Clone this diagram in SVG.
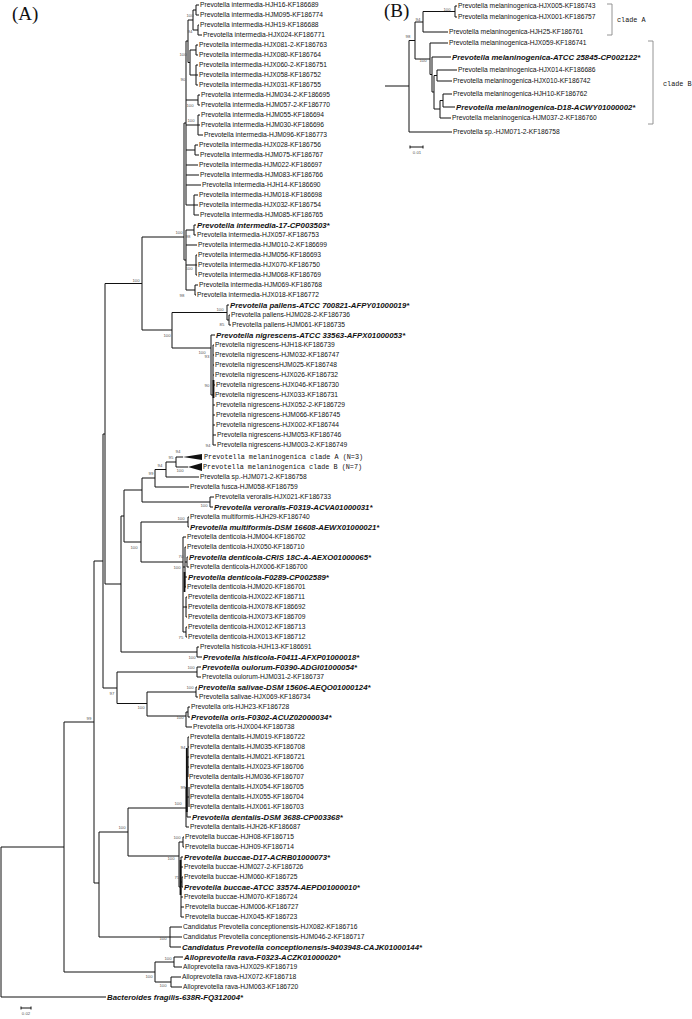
<svg xmlns="http://www.w3.org/2000/svg" width="692" height="1019" viewBox="0 0 692 1019">
<style>
text{fill:#111}
.n{font-family:"Liberation Sans",Arial,sans-serif;font-size:6.7px}
.b{font-family:"Liberation Sans",Arial,sans-serif;font-size:7.8px;font-weight:bold;font-style:italic}
.m{font-family:"Liberation Mono","Courier New",monospace;font-size:6.8px}
.s{font-family:"Liberation Sans",Arial,sans-serif;font-size:4.3px;fill:#555;text-anchor:middle}
.t{font-family:"Liberation Serif","Times New Roman",serif;font-size:19px}
.e{stroke:#111;stroke-width:1;fill:none}
.k{stroke:#111;stroke-width:1.8;fill:none}
.g{stroke:#888;stroke-width:0.9;fill:none}
</style>
<rect width="692" height="1019" fill="#fff"/>
<g id="panel-labels">
<text class="t" x="12" y="20">(A)</text>
<text class="t" x="384" y="17">(B)</text>
</g>
<g id="connectors">
<path class="e" d="M196,5V15M196,5H199M196,15H199M198,25V35M198,25H199M198,35H202M193,10V30M193,10H196M193,30H198M196,45V55M196,45H198M196,55H198M196,65V85M196,65H198M196,75H198M196,85H198M190,50V75M190,50H196M190,75H196M188,20V62.5M188,20H193M188,62.5H190M198,95V105M198,95H200M198,105H200M198,115V135M198,115H200M198,125H200M198,135H203M195,145V155M195,145H198M195,155H199M194,195V215M194,195H198M194,205H198M194,215H199M186,41V205M186,41H188M186,100H198M186,125H198M186,150H195M186,165H198M186,175H199M186,185H201M186,205H194M194,225V235M194,225H196M194,235H196M196,255V275M196,255H197M196,265H197M196,275H197M195,285V295M195,285H198M195,295H196M186,230V290M186,230H194M186,245H197M186,265H196M186,290H195M184,123V260M184,123H186M184,260H186"/>
<path class="e" d="M229,315V325M229,315H230M229,325H231M227,305V320M227,305H229M227,320H229M213,345V445M213,345H214M213,355H214M213,365H214M213,375H214M213,385H215M213,395H214M213,405H215M213,415H215M213,425H215M213,435H216M213,445H216M211,335V395M211,335H215M211,395H213M172,312.5V348M172,312.5H227M172,348H211M142,237V330M142,237H184M142,330H172M105,283.5V584M105,283.5H142M105,584H121M103,434V688M103,434H105M103,688H117M94,561V883M94,561H103M94,883H99M64,722V972M64,722H94M64,972H155M1,847V997M1,847H64M1,997H106"/>
<path class="e" d="M176,457V467M176,457H183M176,467H188M166,462V477M166,462H176M166,477H199M155,469.5V487M155,469.5H166M155,487H189M142,478V502M142,478H155M142,502H210M210,497V507M210,497H214M210,507H213M124,490V542M124,490H142M124,542H141M141,522V562M141,522H188M141,562H183M188,517V527M188,517H189M188,527H189M121,516V652M121,516H124M121,652H197M197,647V657M197,647H199M197,657H202"/>
<path class="e" d="M187,557V567M187,557H188M187,567H189M185,547V587M185,547H186M185,562H187M185,577H187M185,587H186M186,597V617M186,597H187M186,607H187M186,617H187M186,627V637M186,627H187M186,637H187M183,537V632M183,537H186M183,567H185M183,607H186M183,632H186"/>
<path class="e" d="M117,672V703.5M117,672H197M117,703.5H147M197,667V677M197,667H201M197,677H201M147,692V716M147,692H196M147,716H186M196,687V697M196,687H197M196,697H198M188,707V717M188,707H190M188,717H190M186,712V727M186,712H188M186,727H192"/>
<path class="e" d="M128,808V856M128,808H186M128,856H179M188,737V777M188,737H189M188,747H189M188,757H189M188,767H189M189,787V807M187,757V817M187,757H188M187,797H189M187,817H191M186,787V827M186,787H187M186,827H189M183,837V847M183,837H184M183,847H184M182,877V887M182,877H183M182,887H183M181,857V917M181,857H183M181,867H183M181,882H182M181,897H183M181,907H184M181,917H184M179,842V887M179,842H183M179,887H181M99,832V937M99,832H128M99,937H170M170,927V947M170,927H182M170,937H182M170,947H181M155,962V982M155,962H174M155,982H171M174,957V967M174,957H183M174,967H182M171,977V987M171,977H181M171,987H182"/>
<path class="k" d="M213.5,380V398M184.5,572V592M186.8,748V812M180.5,860V895"/>
<polygon points="183,457 202,454 202,460" fill="#111"/>
<polygon points="188,467 202,463 202,471" fill="#111"/>
<path class="e" d="M455,6V17M455,6H457M455,17H457M423,11.5V32M423,11.5H455M423,32H448M437,70V81M437,70H457M437,81H452M443,94V107M443,94H452M443,107H455M440,100.5V118M440,100.5H443M440,118H451M434,75.5V109M434,75.5H437M434,109H440M432,57V92M432,57H451M432,92H434M430,43V74.5M430,43H448M430,74.5H432M415,22V59M415,22H423M415,59H430M409,40.5V132M409,40.5H415M409,132H452M385,86H409"/>
<path class="g" d="M607,4H612V35H607M648,41H653V124H648"/>
<path class="e" d="M21,1008H31M21,1006.5V1009.5M31,1006.5V1009.5M410,147H423M410,145.5V148.5M423,145.5V148.5"/>
</g>
<g id="scale-labels">
<text class="s" x="26" y="1015">0.02</text>
<text class="s" x="417" y="154">0.01</text>
</g>
<g id="bootstrap">
<text class="s" x="190" y="17">100</text><text class="s" x="190" y="33">94</text><text class="s" x="183" y="56">100</text><text class="s" x="183" y="81">90</text><text class="s" x="190" y="107">100</text><text class="s" x="191" y="122">100</text><text class="s" x="179" y="234">100</text><text class="s" x="188" y="238">98</text><text class="s" x="189" y="270">100</text><text class="s" x="182" y="297">98</text>
<text class="s" x="220" y="311">100</text><text class="s" x="222" y="326">85</text><text class="s" x="202" y="354">100</text><text class="s" x="207" y="358">93</text><text class="s" x="207" y="387">90</text><text class="s" x="208" y="447">94</text><text class="s" x="167" y="337">100</text><text class="s" x="136" y="282">100</text>
<text class="s" x="178" y="453">94</text><text class="s" x="171" y="459">95</text><text class="s" x="160" y="467">94</text><text class="s" x="151" y="475">99</text><text class="s" x="180" y="472">100</text>
<text class="s" x="204" y="507">100</text><text class="s" x="181" y="520">100</text><text class="s" x="134" y="549">100</text><text class="s" x="177" y="569">100</text><text class="s" x="181" y="558">70</text><text class="s" x="181" y="639">75</text>
<text class="s" x="192" y="659">100</text><text class="s" x="191" y="669">100</text><text class="s" x="112" y="695">97</text><text class="s" x="190" y="689">100</text><text class="s" x="141" y="709">100</text><text class="s" x="180" y="719">100</text>
<text class="s" x="183" y="749">94</text><text class="s" x="183" y="789">99</text><text class="s" x="178" y="805">100</text><text class="s" x="122" y="829">100</text>
<text class="s" x="177" y="839">100</text><text class="s" x="171" y="860">100</text><text class="s" x="177" y="879">75</text>
<text class="s" x="163" y="940">100</text><text class="s" x="168" y="960">100</text><text class="s" x="149" y="978">100</text><text class="s" x="163" y="987">100</text><text class="s" x="89" y="720">99</text>
<text class="s" x="447" y="11">100</text><text class="s" x="418" y="21">94</text><text class="s" x="408" y="38">98</text><text class="s" x="423" y="62">100</text>
</g>
<g id="L1"><text class="n" x="200" y="7.4">Prevotella intermedia-HJH16-KF186689</text></g>
<g id="L2"><text class="n" x="200" y="17.4">Prevotella intermedia-HJM095-KF186774</text></g>
<g id="L3"><text class="n" x="200" y="27.4">Prevotella intermedia-HJH19-KF186688</text></g>
<g id="L4"><text class="n" x="203" y="37.4">Prevotella intermedia-HJX024-KF186771</text></g>
<g id="L5"><text class="n" x="199" y="47.4">Prevotella intermedia-HJX081-2-KF186763</text></g>
<g id="L6"><text class="n" x="199" y="57.4">Prevotella intermedia-HJX080-KF186764</text></g>
<g id="L7"><text class="n" x="199" y="67.4">Prevotella intermedia-HJX060-2-KF186751</text></g>
<g id="L8"><text class="n" x="199" y="77.4">Prevotella intermedia-HJX058-KF186752</text></g>
<g id="L9"><text class="n" x="199" y="87.4">Prevotella intermedia-HJX031-KF186755</text></g>
<g id="L10"><text class="n" x="201" y="97.4">Prevotella intermedia-HJM034-2-KF186695</text></g>
<g id="L11"><text class="n" x="201" y="107.4">Prevotella intermedia-HJM057-2-KF186770</text></g>
<g id="L12"><text class="n" x="201" y="117.4">Prevotella intermedia-HJM055-KF186694</text></g>
<g id="L13"><text class="n" x="201" y="127.4">Prevotella intermedia-HJM030-KF186696</text></g>
<g id="L14"><text class="n" x="204" y="137.4">Prevotella intermedia-HJM096-KF186773</text></g>
<g id="L15"><text class="n" x="199" y="147.4">Prevotella intermedia-HJX028-KF186756</text></g>
<g id="L16"><text class="n" x="200" y="157.4">Prevotella intermedia-HJM075-KF186767</text></g>
<g id="L17"><text class="n" x="199" y="167.4">Prevotella intermedia-HJM022-KF186697</text></g>
<g id="L18"><text class="n" x="200" y="177.4">Prevotella intermedia-HJM083-KF186766</text></g>
<g id="L19"><text class="n" x="202" y="187.4">Prevotella intermedia-HJH14-KF186690</text></g>
<g id="L20"><text class="n" x="199" y="197.4">Prevotella intermedia-HJM018-KF186698</text></g>
<g id="L21"><text class="n" x="199" y="207.4">Prevotella intermedia-HJX032-KF186754</text></g>
<g id="L22"><text class="n" x="200" y="217.4">Prevotella intermedia-HJM085-KF186765</text></g>
<g id="L23"><text class="b" x="197" y="227.8">Prevotella intermedia-17-CP003503*</text></g>
<g id="L24"><text class="n" x="197" y="237.4">Prevotella intermedia-HJX057-KF186753</text></g>
<g id="L25"><text class="n" x="198" y="247.4">Prevotella intermedia-HJM010-2-KF186699</text></g>
<g id="L26"><text class="n" x="198" y="257.4">Prevotella intermedia-HJM056-KF186693</text></g>
<g id="L27"><text class="n" x="198" y="267.4">Prevotella intermedia-HJX070-KF186750</text></g>
<g id="L28"><text class="n" x="198" y="277.4">Prevotella intermedia-HJM068-KF186769</text></g>
<g id="L29"><text class="n" x="199" y="287.4">Prevotella intermedia-HJM069-KF186768</text></g>
<g id="L30"><text class="n" x="197" y="297.4">Prevotella intermedia-HJX018-KF186772</text></g>
<g id="L31"><text class="b" x="230" y="307.8">Prevotella pallens-ATCC 700821-AFPY01000019*</text></g>
<g id="L32"><text class="n" x="231" y="317.4">Prevotella pallens-HJM028-2-KF186736</text></g>
<g id="L33"><text class="n" x="232" y="327.4">Prevotella pallens-HJM061-KF186735</text></g>
<g id="L34"><text class="b" x="216" y="337.8">Prevotella nigrescens-ATCC 33563-AFPX01000053*</text></g>
<g id="L35"><text class="n" x="215" y="347.4">Prevotella nigrescens-HJH18-KF186739</text></g>
<g id="L36"><text class="n" x="215" y="357.4">Prevotella nigrescens-HJM032-KF186747</text></g>
<g id="L37"><text class="n" x="215" y="367.4">Prevotella nigrescensHJM025-KF186748</text></g>
<g id="L38"><text class="n" x="215" y="377.4">Prevotella nigrescens-HJX026-KF186732</text></g>
<g id="L39"><text class="n" x="216" y="387.4">Prevotella nigrescens-HJX046-KF186730</text></g>
<g id="L40"><text class="n" x="215" y="397.4">Prevotella nigrescens-HJX033-KF186731</text></g>
<g id="L41"><text class="n" x="216" y="407.4">Prevotella nigrescens-HJX052-2-KF186729</text></g>
<g id="L42"><text class="n" x="216" y="417.4">Prevotella nigrescens-HJM066-KF186745</text></g>
<g id="L43"><text class="n" x="216" y="427.4">Prevotella nigrescens-HJX002-KF186744</text></g>
<g id="L44"><text class="n" x="217" y="437.4">Prevotella nigrescens-HJM053-KF186746</text></g>
<g id="L45"><text class="n" x="217" y="447.4">Prevotella nigrescens-HJM003-2-KF186749</text></g>
<g id="L46"><text class="m" x="204" y="459.3">Prevotella melaninogenica clade A (N=3)</text></g>
<g id="L47"><text class="m" x="203" y="469.3">Prevotella melaninogenica clade B (N=7)</text></g>
<g id="L48"><text class="n" x="200" y="479.4">Prevotella sp.-HJM071-2-KF186758</text></g>
<g id="L49"><text class="n" x="190" y="489.4">Prevotella fusca-HJM058-KF186759</text></g>
<g id="L50"><text class="n" x="215" y="499.4">Prevotella veroralis-HJX021-KF186733</text></g>
<g id="L51"><text class="b" x="214" y="509.8">Prevotella veroralis-F0319-ACVA01000031*</text></g>
<g id="L52"><text class="n" x="190" y="519.4">Prevotella multiformis-HJH29-KF186740</text></g>
<g id="L53"><text class="b" x="190" y="529.8">Prevotella multiformis-DSM 16608-AEWX01000021*</text></g>
<g id="L54"><text class="n" x="187" y="539.4">Prevotella denticola-HJM004-KF186702</text></g>
<g id="L55"><text class="n" x="187" y="549.4">Prevotella denticola-HJX050-KF186710</text></g>
<g id="L56"><text class="b" x="189" y="559.8">Prevotella denticola-CRIS 18C-A-AEXO01000065*</text></g>
<g id="L57"><text class="n" x="190" y="569.4">Prevotella denticola-HJX006-KF186700</text></g>
<g id="L58"><text class="b" x="188" y="579.8">Prevotella denticola-F0289-CP002589*</text></g>
<g id="L59"><text class="n" x="187" y="589.4">Prevotella denticola-HJM020-KF186701</text></g>
<g id="L60"><text class="n" x="188" y="599.4">Prevotella denticola-HJX022-KF186711</text></g>
<g id="L61"><text class="n" x="188" y="609.4">Prevotella denticola-HJX078-KF186692</text></g>
<g id="L62"><text class="n" x="188" y="619.4">Prevotella denticola-HJX073-KF186709</text></g>
<g id="L63"><text class="n" x="188" y="629.4">Prevotella denticola-HJX012-KF186713</text></g>
<g id="L64"><text class="n" x="188" y="639.4">Prevotella denticola-HJX013-KF186712</text></g>
<g id="L65"><text class="n" x="200" y="649.4">Prevotella histicola-HJH13-KF186691</text></g>
<g id="L66"><text class="b" x="203" y="659.8">Prevotella histicola-F0411-AFXP01000018*</text></g>
<g id="L67"><text class="b" x="202" y="669.8">Prevotella oulorum-F0390-ADGI01000054*</text></g>
<g id="L68"><text class="n" x="202" y="679.4">Prevotella oulorum-HJM031-2-KF186737</text></g>
<g id="L69"><text class="b" x="198" y="689.8">Prevotella salivae-DSM 15606-AEQO01000124*</text></g>
<g id="L70"><text class="n" x="199" y="699.4">Prevotella salivae-HJX069-KF186734</text></g>
<g id="L71"><text class="n" x="191" y="709.4">Prevotella oris-HJH23-KF186728</text></g>
<g id="L72"><text class="b" x="191" y="719.8">Prevotella oris-F0302-ACUZ02000034*</text></g>
<g id="L73"><text class="n" x="193" y="729.4">Prevotella oris-HJX004-KF186738</text></g>
<g id="L74"><text class="n" x="190" y="739.4">Prevotella dentalis-HJM019-KF186722</text></g>
<g id="L75"><text class="n" x="190" y="749.4">Prevotella dentalis-HJM035-KF186708</text></g>
<g id="L76"><text class="n" x="190" y="759.4">Prevotella dentalis-HJM021-KF186721</text></g>
<g id="L77"><text class="n" x="190" y="769.4">Prevotella dentalis-HJX023-KF186706</text></g>
<g id="L78"><text class="n" x="189" y="779.4">Prevotella dentalis-HJM036-KF186707</text></g>
<g id="L79"><text class="n" x="190" y="789.4">Prevotella dentalis-HJX054-KF186705</text></g>
<g id="L80"><text class="n" x="190" y="799.4">Prevotella dentalis-HJX055-KF186704</text></g>
<g id="L81"><text class="n" x="190" y="809.4">Prevotella dentalis-HJX061-KF186703</text></g>
<g id="L82"><text class="b" x="192" y="819.8">Prevotella dentalis-DSM 3688-CP003368*</text></g>
<g id="L83"><text class="n" x="190" y="829.4">Prevotella dentalis-HJH26-KF186687</text></g>
<g id="L84"><text class="n" x="185" y="839.4">Prevotella buccae-HJH08-KF186715</text></g>
<g id="L85"><text class="n" x="185" y="849.4">Prevotella buccae-HJH09-KF186714</text></g>
<g id="L86"><text class="b" x="184" y="859.8">Prevotella buccae-D17-ACRB01000073*</text></g>
<g id="L87"><text class="n" x="184" y="869.4">Prevotella buccae-HJM027-2-KF186726</text></g>
<g id="L88"><text class="n" x="184" y="879.4">Prevotella buccae-HJM060-KF186725</text></g>
<g id="L89"><text class="b" x="184" y="889.8">Prevotella buccae-ATCC 33574-AEPD01000010*</text></g>
<g id="L90"><text class="n" x="184" y="899.4">Prevotella buccae-HJM070-KF186724</text></g>
<g id="L91"><text class="n" x="185" y="909.4">Prevotella buccae-HJM006-KF186727</text></g>
<g id="L92"><text class="n" x="185" y="919.4">Prevotella buccae-HJX045-KF186723</text></g>
<g id="L93"><text class="n" x="183" y="929.4">Candidatus Prevotella conceptionensis-HJX082-KF186716</text></g>
<g id="L94"><text class="n" x="183" y="939.4">Candidatus Prevotella conceptionensis-HJM046-2-KF186717</text></g>
<g id="L95"><text class="b" x="182" y="949.8">Candidatus Prevotella conceptionensis-9403948-CAJK01000144*</text></g>
<g id="L96"><text class="b" x="184" y="959.8">Alloprevotella rava-F0323-ACZK01000020*</text></g>
<g id="L97"><text class="n" x="183" y="969.4">Alloprevotella rava-HJX029-KF186719</text></g>
<g id="L98"><text class="n" x="182" y="979.4">Alloprevotella rava-HJX072-KF186718</text></g>
<g id="L99"><text class="n" x="183" y="989.4">Alloprevotella rava-HJM063-KF186720</text></g>
<g id="L100"><text class="b" x="107" y="999.8">Bacteroides fragilis-638R-FQ312004*</text></g>
<g id="B1"><text class="n" x="458" y="8.4">Prevotella melaninogenica-HJX005-KF186743</text></g>
<g id="B2"><text class="n" x="458" y="19.4">Prevotella melaninogenica-HJX001-KF186757</text></g>
<g id="B3"><text class="n" x="449" y="34.4">Prevotella melaninogenica-HJH25-KF186761</text></g>
<g id="B4"><text class="n" x="449" y="45.4">Prevotella melaninogenica-HJX059-KF186741</text></g>
<g id="B5"><text class="b" x="452" y="59.8">Prevotella melaninogenica-ATCC 25845-CP002122*</text></g>
<g id="B6"><text class="n" x="458" y="72.4">Prevotella melaninogenica-HJX014-KF186686</text></g>
<g id="B7"><text class="n" x="453" y="83.4">Prevotella melaninogenica-HJX010-KF186742</text></g>
<g id="B8"><text class="n" x="453" y="96.4">Prevotella melaninogenica-HJH10-KF186762</text></g>
<g id="B9"><text class="b" x="456" y="109.8">Prevotella melaninogenica-D18-ACWY01000002*</text></g>
<g id="B10"><text class="n" x="452" y="120.4">Prevotella melaninogenica-HJM037-2-KF186760</text></g>
<g id="B11"><text class="n" x="453" y="134.4">Prevotella sp.-HJM071-2-KF186758</text></g>
<g id="cladeA"><text class="m" x="617" y="21.5">clade A</text></g>
<g id="cladeB"><text class="m" x="663" y="85.5">clade B</text></g>
</svg>
